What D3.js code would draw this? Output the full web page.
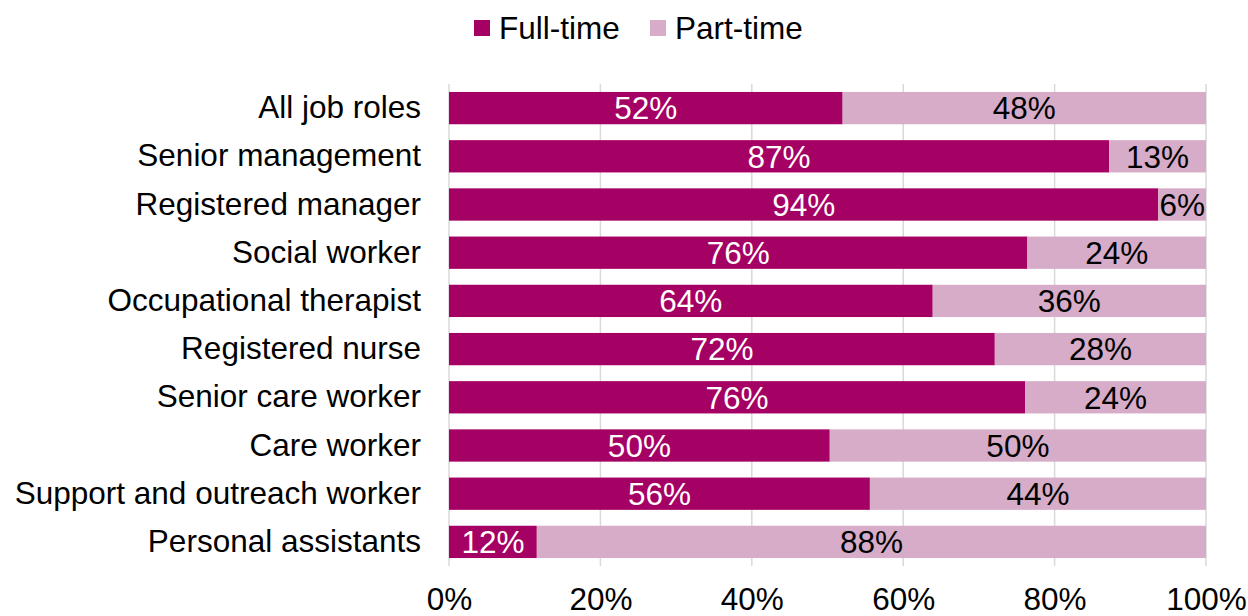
<!DOCTYPE html>
<html>
<head>
<meta charset="utf-8">
<script src="https://cdn.jsdelivr.net/npm/d3@7"></script>
<style>
  body { margin: 0; background: #fff; }
  svg { display: block; font-family: "Liberation Sans", Arial, sans-serif; }
</style>
</head>
<body>
<svg id="chart" width="1248" height="616"></svg>
<script>
// chart data
const roles = ['All job roles', 'Senior management', 'Registered manager', 'Social worker',
  'Occupational therapist', 'Registered nurse', 'Senior care worker', 'Care worker',
  'Support and outreach worker', 'Personal assistants'];
const fullTime = [0.52, 0.872, 0.937, 0.764, 0.639, 0.721, 0.761, 0.503, 0.556, 0.116];
const partTime = [0.48, 0.128, 0.063, 0.236, 0.361, 0.279, 0.239, 0.497, 0.444, 0.884];
const xTicks = [0, 0.2, 0.4, 0.6, 0.8, 1];
const seriesNames = ['Full-time', 'Part-time'];
const colors = ['#a50064', '#d6acc8'];

const fontSize = 31.5;

const svg = d3.select('#chart');
const margin = { top: 84, right: 42, bottom: 50, left: 449 };
const width = 1248 - margin.left - margin.right;
const height = 616 - margin.top - margin.bottom;

const g = svg.append('g')
  .attr('transform', `translate(${margin.left}, ${margin.top})`);

const x = d3.scaleLinear().domain([0, 1]).range([0, width]);
const y = d3.scaleBand().domain(roles).range([0, height]).paddingInner(0.33).paddingOuter(0.165);

// gridlines
g.selectAll('line.grid')
  .data(xTicks)
  .enter()
  .append('line')
  .attr('class', 'grid')
  .attr('x1', d => x(d)).attr('x2', d => x(d))
  .attr('y1', 0).attr('y2', height)
  .attr('stroke', '#d9d9d9')
  .attr('stroke-width', 1.5);

const rows = roles.map((r, i) => ({ role: r, full: fullTime[i], part: partTime[i] }));

// full-time bars
g.selectAll('rect.full')
  .data(rows)
  .enter()
  .append('rect')
  .attr('x', x(0))
  .attr('y', d => y(d.role))
  .attr('width', d => x(d.full) - x(0))
  .attr('height', y.bandwidth())
  .attr('fill', colors[0]);

// part-time bars
g.selectAll('rect.part')
  .data(rows)
  .enter()
  .append('rect')
  .attr('x', d => x(d.full))
  .attr('y', d => y(d.role))
  .attr('width', d => x(d.full + d.part) - x(d.full))
  .attr('height', y.bandwidth())
  .attr('fill', colors[1]);

const fmt = v => Math.round(v * 100) + '%';

g.selectAll('text.full')
  .data(rows)
  .enter()
  .append('text')
  .attr('x', d => x(d.full / 2))
  .attr('y', d => y(d.role) + y.bandwidth() / 2)
  .attr('dy', '0.36em')
  .attr('text-anchor', 'middle')
  .attr('fill', '#fff')
  .attr('font-size', fontSize)
  .text(d => fmt(d.full));

g.selectAll('text.part')
  .data(rows)
  .enter()
  .append('text')
  .attr('x', d => x(d.full + d.part / 2))
  .attr('y', d => y(d.role) + y.bandwidth() / 2)
  .attr('dy', '0.36em')
  .attr('text-anchor', 'middle')
  .attr('fill', '#000')
  .attr('font-size', fontSize)
  .text(d => fmt(d.part));

// category axis
const yAxis = g.append('g')
  .call(d3.axisLeft(y).tickSize(0).tickPadding(28));
yAxis.select('.domain').remove();
yAxis.selectAll('text')
  .attr('font-size', fontSize)
  .attr('fill', '#000')
  .attr('font-family', '"Liberation Sans", Arial, sans-serif');

// value axis
const xAxis = g.append('g')
  .attr('transform', `translate(0, ${height})`)
  .call(d3.axisBottom(x).tickValues(xTicks).tickFormat(d3.format('.0%')).tickSize(0).tickPadding(22));
xAxis.select('.domain').remove();
xAxis.selectAll('text')
  .attr('font-size', fontSize)
  .attr('fill', '#000')
  .attr('font-family', '"Liberation Sans", Arial, sans-serif');

// legend
const legendX = [474, 650];
const legend = svg.selectAll('g.legend')
  .data(seriesNames)
  .enter()
  .append('g')
  .attr('transform', (d, i) => `translate(${legendX[i]}, 20)`);
legend.append('rect')
  .attr('width', 16).attr('height', 16)
  .attr('fill', (d, i) => colors[i]);
legend.append('text')
  .attr('x', 25).attr('y', 8)
  .attr('dy', '0.36em')
  .attr('font-size', fontSize)
  .text(d => d);
</script>
</body>
</html>
